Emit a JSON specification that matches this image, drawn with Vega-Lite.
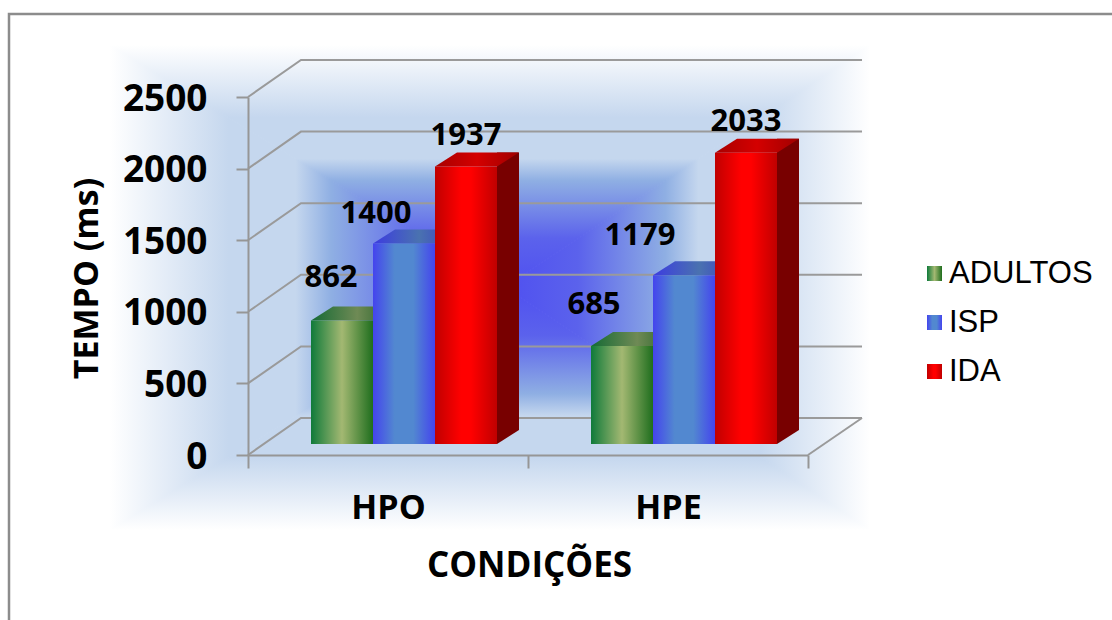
{
  "$schema": "https://vega.github.io/schema/vega-lite/v6.json",
  "width": 1112,
  "height": 620,
  "padding": 0,
  "autosize": {"type": "none"},
  "background": "white",
  "config": {"view": {"stroke": null}},
  "datasets": {
    "barras": [
      {"condicao": "HPO", "grupo": "ADULTOS", "tempo": 862},
      {"condicao": "HPO", "grupo": "ISP", "tempo": 1400},
      {"condicao": "HPO", "grupo": "IDA", "tempo": 1937},
      {"condicao": "HPE", "grupo": "ADULTOS", "tempo": 685},
      {"condicao": "HPE", "grupo": "ISP", "tempo": 1179},
      {"condicao": "HPE", "grupo": "IDA", "tempo": 2033}
    ],
    "escala": [{"marca": 0}, {"marca": 500}, {"marca": 1000}, {"marca": 1500}, {"marca": 2000}, {"marca": 2500}],
    "origem": [{"marca": 0}]
  },
  "data": {"name": "barras"},
  "layer": [
    {
      "data": {"name": "origem"},
      "mark": {"type": "point", "filled": true, "opacity": 1, "size": 4, "shape": "M-278,-410L-278,75L117,-168Z", "strokeWidth": 1,
        "stroke": {"gradient": "linear", "x1": 0, "x2": 1, "y1": 0, "y2": 0, "stops": [{"offset": 0, "color": "#ffffff"}, {"offset": 0.3, "color": "#c5d7ee"}, {"offset": 0.47, "color": "#c5d7ee"}, {"offset": 0.56, "color": "#8fafe3"}, {"offset": 0.8, "color": "#5b62ec"}, {"offset": 1, "color": "#4f50f0"}]},
        "fill": {"gradient": "linear", "x1": 0, "x2": 1, "y1": 0, "y2": 0, "stops": [{"offset": 0, "color": "#ffffff"}, {"offset": 0.3, "color": "#c5d7ee"}, {"offset": 0.47, "color": "#c5d7ee"}, {"offset": 0.56, "color": "#8fafe3"}, {"offset": 0.8, "color": "#5b62ec"}, {"offset": 1, "color": "#4f50f0"}]}},
      "encoding": {"x": {"datum": "HPO", "scale": {"domain": ["HPO", "HPE"], "range": [248, 808], "paddingInner": 0, "paddingOuter": 0}, "type": "nominal"}, "y": {"datum": 0, "type": "quantitative", "scale": {"domain": [0, 2500], "range": [455, 97], "nice": false}}}
    },
    {
      "data": {"name": "origem"},
      "mark": {"type": "point", "filled": true, "opacity": 1, "size": 4, "shape": "M482,-410L482,75L117,-168Z", "strokeWidth": 1,
        "stroke": {"gradient": "linear", "x1": 1, "x2": 0, "y1": 0, "y2": 0, "stops": [{"offset": 0, "color": "#ffffff"}, {"offset": 0.3, "color": "#c5d7ee"}, {"offset": 0.47, "color": "#c5d7ee"}, {"offset": 0.56, "color": "#8fafe3"}, {"offset": 0.8, "color": "#5b62ec"}, {"offset": 1, "color": "#4f50f0"}]},
        "fill": {"gradient": "linear", "x1": 1, "x2": 0, "y1": 0, "y2": 0, "stops": [{"offset": 0, "color": "#ffffff"}, {"offset": 0.3, "color": "#c5d7ee"}, {"offset": 0.47, "color": "#c5d7ee"}, {"offset": 0.56, "color": "#8fafe3"}, {"offset": 0.8, "color": "#5b62ec"}, {"offset": 1, "color": "#4f50f0"}]}},
      "encoding": {"x": {"datum": "HPO", "type": "nominal"}, "y": {"datum": 0, "type": "quantitative"}}
    },
    {
      "data": {"name": "origem"},
      "mark": {"type": "point", "filled": true, "opacity": 1, "size": 4, "shape": "M-278,-410L482,-410L117,-168Z", "strokeWidth": 1,
        "stroke": {"gradient": "linear", "x1": 0, "x2": 0, "y1": 0, "y2": 1, "stops": [{"offset": 0, "color": "#ffffff"}, {"offset": 0.3, "color": "#c5d7ee"}, {"offset": 0.47, "color": "#c5d7ee"}, {"offset": 0.56, "color": "#8fafe3"}, {"offset": 0.8, "color": "#5b62ec"}, {"offset": 1, "color": "#4f50f0"}]},
        "fill": {"gradient": "linear", "x1": 0, "x2": 0, "y1": 0, "y2": 1, "stops": [{"offset": 0, "color": "#ffffff"}, {"offset": 0.3, "color": "#c5d7ee"}, {"offset": 0.47, "color": "#c5d7ee"}, {"offset": 0.56, "color": "#8fafe3"}, {"offset": 0.8, "color": "#5b62ec"}, {"offset": 1, "color": "#4f50f0"}]}},
      "encoding": {"x": {"datum": "HPO", "type": "nominal"}, "y": {"datum": 0, "type": "quantitative"}}
    },
    {
      "data": {"name": "origem"},
      "mark": {"type": "point", "filled": true, "opacity": 1, "size": 4, "shape": "M-278,75L482,75L117,-168Z", "strokeWidth": 1,
        "stroke": {"gradient": "linear", "x1": 0, "x2": 0, "y1": 1, "y2": 0, "stops": [{"offset": 0, "color": "#ffffff"}, {"offset": 0.3, "color": "#c5d7ee"}, {"offset": 0.47, "color": "#c5d7ee"}, {"offset": 0.56, "color": "#8fafe3"}, {"offset": 0.8, "color": "#5b62ec"}, {"offset": 1, "color": "#4f50f0"}]},
        "fill": {"gradient": "linear", "x1": 0, "x2": 0, "y1": 1, "y2": 0, "stops": [{"offset": 0, "color": "#ffffff"}, {"offset": 0.3, "color": "#c5d7ee"}, {"offset": 0.47, "color": "#c5d7ee"}, {"offset": 0.56, "color": "#8fafe3"}, {"offset": 0.8, "color": "#5b62ec"}, {"offset": 1, "color": "#4f50f0"}]}},
      "encoding": {"x": {"datum": "HPO", "type": "nominal"}, "y": {"datum": 0, "type": "quantitative"}}
    },
    {
      "data": {"name": "origem"},
      "mark": {"type": "point", "filled": false, "opacity": 1, "size": 4, "shape": "M-379,175L-379,-441L730,-441", "stroke": "#8c8c8c", "strokeWidth": 2.5},
      "encoding": {"x": {"datum": "HPO", "type": "nominal"}, "y": {"datum": 0, "type": "quantitative"}}
    },
    {
      "data": {"name": "escala"},
      "mark": {"type": "point", "filled": false, "opacity": 1, "size": 4, "shape": "M-140,0L-87,-37L474,-37", "stroke": "#9a9a9a", "strokeWidth": 2},
      "encoding": {"x": {"datum": "HPO", "type": "nominal"}, "y": {"field": "marca", "type": "quantitative"}}
    },
    {
      "data": {"name": "origem"},
      "mark": {"type": "point", "filled": false, "opacity": 1, "size": 4, "shape": "M420,0L474,-37", "stroke": "#9a9a9a", "strokeWidth": 2},
      "encoding": {"x": {"datum": "HPO", "type": "nominal"}, "y": {"datum": 0, "type": "quantitative"}}
    },
    {
      "transform": [{"filter": "datum.grupo === 'IDA'"}],
      "mark": {"type": "bar", "width": 22, "yOffset": -25, "y2Offset": -25, "color": "#780000", "align": "left"},
      "encoding": {"x": {"field": "condicao", "type": "nominal"}, "xOffset": {"datum": "LADO", "type": "nominal", "scale": {"domain": ["ADULTOS", "ISP", "IDA", "LADO"], "range": [63, 311], "paddingInner": 0, "paddingOuter": 0}}, "y": {"field": "tempo", "type": "quantitative"}}
    },
    {
      "transform": [{"filter": "datum.grupo === 'IDA'"}],
      "mark": {"type": "point", "filled": true, "opacity": 1, "size": 4, "strokeWidth": 0, "shape": "M31,0L53,-14L31,-14Z", "color": "#780000", "yOffset": -11},
      "encoding": {"x": {"field": "condicao", "type": "nominal"}, "xOffset": {"field": "grupo", "type": "nominal"}, "y": {"datum": 0, "type": "quantitative"}}
    },
    {
      "transform": [{"filter": "datum.grupo === 'ADULTOS'"}],
      "mark": {"type": "point", "filled": true, "opacity": 1, "size": 4, "strokeWidth": 0, "shape": "M-31,0L31,0L53,-14L-9,-14Z", "yOffset": -11,
        "fill": {"gradient": "linear", "x1": 0, "x2": 1, "y1": 0, "y2": 0, "stops": [{"offset": 0, "color": "#156a35"}, {"offset": 0.55, "color": "#6f8a55"}, {"offset": 1, "color": "#1f5f25"}]}},
      "encoding": {"x": {"field": "condicao", "type": "nominal"}, "xOffset": {"field": "grupo", "type": "nominal"}, "y": {"field": "tempo", "type": "quantitative"}}
    },
    {
      "transform": [{"filter": "datum.grupo === 'ISP'"}],
      "mark": {"type": "point", "filled": true, "opacity": 1, "size": 4, "strokeWidth": 0, "shape": "M-31,0L31,0L53,-14L-9,-14Z", "yOffset": -11,
        "fill": {"gradient": "linear", "x1": 0, "x2": 1, "y1": 0, "y2": 0, "stops": [{"offset": 0, "color": "#3c3ce0"}, {"offset": 0.55, "color": "#4a72b0"}, {"offset": 1, "color": "#3a3cc8"}]}},
      "encoding": {"x": {"field": "condicao", "type": "nominal"}, "xOffset": {"field": "grupo", "type": "nominal"}, "y": {"field": "tempo", "type": "quantitative"}}
    },
    {
      "transform": [{"filter": "datum.grupo === 'IDA'"}],
      "mark": {"type": "point", "filled": true, "opacity": 1, "size": 4, "strokeWidth": 0, "shape": "M-31,0L31,0L53,-14L-9,-14Z", "yOffset": -11,
        "fill": {"gradient": "linear", "x1": 0, "x2": 1, "y1": 0, "y2": 0, "stops": [{"offset": 0, "color": "#a80000"}, {"offset": 0.5, "color": "#d40000"}, {"offset": 1, "color": "#a00000"}]}},
      "encoding": {"x": {"field": "condicao", "type": "nominal"}, "xOffset": {"field": "grupo", "type": "nominal"}, "y": {"field": "tempo", "type": "quantitative"}}
    },
    {
      "mark": {"type": "bar", "yOffset": -11, "y2Offset": -11},
      "encoding": {
        "x": {"field": "condicao", "type": "nominal", "sort": ["HPO", "HPE"],
          "axis": {"title": "CONDIÇÕES", "zindex": 1, "offset": -165, "labelAngle": 0, "labelAlign": "center", "labelFont": "Open Sans", "labelFontWeight": "bold", "labelFontSize": 34, "labelColor": "#000000", "labelPadding": 40, "tickBand": "extent", "tickSize": 13, "tickWidth": 2, "tickColor": "#969696", "domainColor": "#969696", "domainWidth": 2, "titleFont": "Open Sans", "titleFontWeight": "bold", "titleFontSize": 35, "titleColor": "#000000", "titleX": 529, "titleY": 110, "titleBaseline": "middle", "titleAlign": "center"}},
        "xOffset": {"field": "grupo", "type": "nominal"},
        "y": {"field": "tempo", "type": "quantitative",
          "axis": {"title": "TEMPO (ms)", "zindex": 1, "offset": -248, "values": [0, 500, 1000, 1500, 2000, 2500], "format": "d", "grid": false, "labelFont": "Open Sans", "labelFontWeight": "bold", "labelFontSize": 37, "labelColor": "#000000", "labelPadding": 29, "labelOffset": 2, "tickSize": 12, "tickWidth": 2, "tickColor": "#969696", "domainColor": "#969696", "domainWidth": 2, "titleFont": "Open Sans", "titleFontWeight": "bold", "titleFontSize": 34, "titleColor": "#000000", "titleX": -161, "titleY": 278, "titleBaseline": "middle", "titleAlign": "center"}},
        "color": {"field": "grupo", "type": "nominal",
          "scale": {"domain": ["ADULTOS", "ISP", "IDA"], "range": [
            {"expr": "{gradient:'linear',x1:0,x2:1,y1:0,y2:0,stops:[{offset:0,color:'#0f7a3a'},{offset:0.5,color:'#a3b872'},{offset:1,color:'#1f6e1e'}]}"},
            {"expr": "{gradient:'linear',x1:0,x2:1,y1:0,y2:0,stops:[{offset:0,color:'#4444ee'},{offset:0.35,color:'#5288d0'},{offset:0.65,color:'#5288d0'},{offset:1,color:'#4444ee'}]}"},
            {"expr": "{gradient:'linear',x1:0,x2:1,y1:0,y2:0,stops:[{offset:0,color:'#c00000'},{offset:0.42,color:'#ff0000'},{offset:0.58,color:'#ff0000'},{offset:1,color:'#c00000'}]}"}
          ]},
          "legend": {"orient": "none", "legendX": 919, "legendY": 258, "title": null, "symbolType": "square", "symbolSize": 225, "symbolStrokeWidth": 0, "labelFont": "Liberation Sans", "labelFontSize": 31, "labelColor": "#000000", "labelOffset": -1, "rowPadding": 17}}
      }
    },
    {
      "transform": [{"filter": "datum.grupo === 'IDA'"}],
      "mark": {"type": "text", "font": "Open Sans", "fontWeight": "bold", "fontSize": 31, "color": "#000000", "baseline": "middle", "dy": -31, "yOffset": -11},
      "encoding": {"x": {"field": "condicao", "type": "nominal"}, "xOffset": {"field": "grupo", "type": "nominal"}, "y": {"field": "tempo", "type": "quantitative"}, "text": {"field": "tempo", "type": "quantitative"}}
    },
    {
      "transform": [{"filter": "datum.grupo === 'ISP' && datum.condicao === 'HPO'"}],
      "mark": {"type": "text", "font": "Open Sans", "fontWeight": "bold", "fontSize": 31, "color": "#000000", "baseline": "middle", "dx": -28, "dy": -30, "yOffset": -11},
      "encoding": {"x": {"field": "condicao", "type": "nominal"}, "xOffset": {"field": "grupo", "type": "nominal"}, "y": {"field": "tempo", "type": "quantitative"}, "text": {"field": "tempo", "type": "quantitative"}}
    },
    {
      "transform": [{"filter": "datum.grupo === 'ISP' && datum.condicao === 'HPE'"}],
      "mark": {"type": "text", "font": "Open Sans", "fontWeight": "bold", "fontSize": 31, "color": "#000000", "baseline": "middle", "dx": -44, "dy": -39, "yOffset": -11},
      "encoding": {"x": {"field": "condicao", "type": "nominal"}, "xOffset": {"field": "grupo", "type": "nominal"}, "y": {"field": "tempo", "type": "quantitative"}, "text": {"field": "tempo", "type": "quantitative"}}
    },
    {
      "transform": [{"filter": "datum.grupo === 'ADULTOS' && datum.condicao === 'HPO'"}],
      "mark": {"type": "text", "font": "Open Sans", "fontWeight": "bold", "fontSize": 31, "color": "#000000", "baseline": "middle", "dx": -11, "dy": -43, "yOffset": -11},
      "encoding": {"x": {"field": "condicao", "type": "nominal"}, "xOffset": {"field": "grupo", "type": "nominal"}, "y": {"field": "tempo", "type": "quantitative"}, "text": {"field": "tempo", "type": "quantitative"}}
    },
    {
      "transform": [{"filter": "datum.grupo === 'ADULTOS' && datum.condicao === 'HPE'"}],
      "mark": {"type": "text", "font": "Open Sans", "fontWeight": "bold", "fontSize": 31, "color": "#000000", "baseline": "middle", "dx": -28, "dy": -41, "yOffset": -11},
      "encoding": {"x": {"field": "condicao", "type": "nominal"}, "xOffset": {"field": "grupo", "type": "nominal"}, "y": {"field": "tempo", "type": "quantitative"}, "text": {"field": "tempo", "type": "quantitative"}}
    }
  ]
}
